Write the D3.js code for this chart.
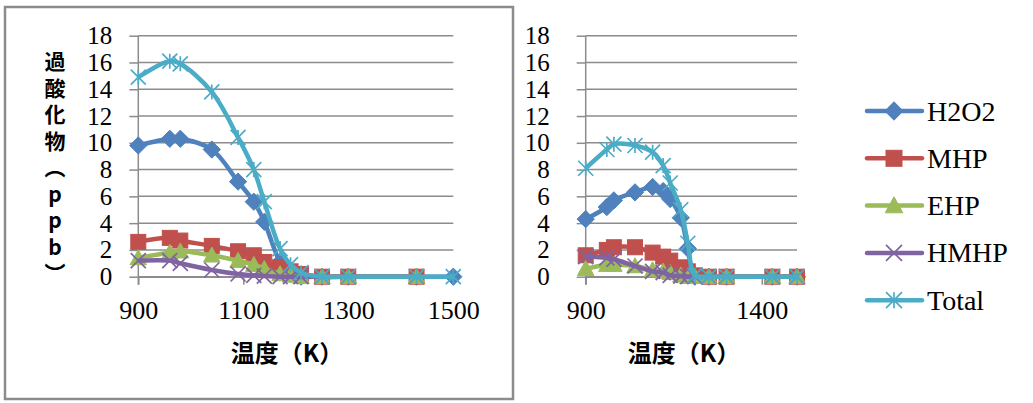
<!DOCTYPE html>
<html><head><meta charset="utf-8">
<script src="https://cdn.jsdelivr.net/npm/d3@7"></script>
<style>
body{margin:0;background:#fff}
svg{display:block}
</style>
</head><body>
<script>
// Peroxide concentrations (ppb) versus temperature (K), two runs
const temps = [900,960,980,1040,1090,1120,1140,1170,1190,1210,1250,1300,1430,1500];

const leftH2O2  = [9.8,10.3,10.3,9.5,7.1,5.6,4.1,1.1,0.2,0,0,0,0,0];
const leftMHP   = [2.6,2.9,2.7,2.3,1.9,1.6,1.1,0.7,0.4,0.2,0,0,0,null];
const leftEHP   = [1.4,1.8,1.9,1.6,1.2,0.9,0.6,0.2,0.1,0,0,0,0,null];
const leftHMHP  = [1.2,1.2,1.0,0.5,0.2,0.1,0.05,0,0,0,0,0,0,null];
const leftTotal = [14.9,16.1,15.9,13.8,10.4,8.0,5.6,2.1,0.9,0.3,0,0,0,0];

const rightH2O2  = [4.3,5.2,5.7,6.3,6.7,6.4,5.8,4.4,2.1,0,0,0,0,0];
const rightMHP   = [1.6,2.0,2.2,2.2,1.8,1.5,1.2,0.7,0.4,0.1,0,0,0,0];
const rightEHP   = [0.6,0.9,0.9,0.8,0.5,0.4,0.3,0.1,0,0,0,0,0,0];
const rightHMHP  = [1.5,1.4,1.3,0.8,0.4,0.3,0.1,0.05,0,0,0,0,0,0];
const rightTotal = [8.1,9.5,9.9,9.8,9.3,8.3,7.0,5.0,2.5,0.1,0,0,0,0];

const seriesNames = ["H2O2","MHP","EHP","HMHP","Total"];
const seriesColors = ["#4f81bd","#c0504d","#9bbb59","#8064a2","#4bacc6"];
const seriesMarkers = ["diamond","square","triangle","x","star"];

const yTicks = [0,2,4,6,8,10,12,14,16,18];
const leftXTicks = [900,1100,1300,1500];
const rightXTicks = [900,1400];

const xTitle = "温度（K）";
const yTitle = "過酸化物（ppb）";

const W = 1033, H = 403;
const svg = d3.select("body").append("svg").attr("width", W).attr("height", H);

const serif = "'Liberation Serif','Times New Roman',serif";
const cjk = "'Noto Sans CJK JP','Noto Sans CJK SC',sans-serif";
const gridColor = "#8c8c8c";

// frame around the left chart
svg.append("rect").attr("x",5).attr("y",7).attr("width",508).attr("height",392)
  .attr("fill","none").attr("stroke","#8c8c8c").attr("stroke-width",2.5);

function drawMarker(g, type, color, size){
  const s = size/2;
  if(type==="diamond"){
    g.append("path").attr("d",`M0,${-s*1.15}L${s*1.15},0L0,${s*1.15}L${-s*1.15},0Z`).attr("fill",color).attr("stroke",color).attr("stroke-width",1);
  } else if(type==="square"){
    g.append("rect").attr("x",-s).attr("y",-s).attr("width",size).attr("height",size).attr("fill",color).attr("stroke",color).attr("stroke-width",1);
  } else if(type==="triangle"){
    g.append("path").attr("d",`M0,${-s*1.1}L${s*1.1},${s*0.9}L${-s*1.1},${s*0.9}Z`).attr("fill",color).attr("stroke",color).attr("stroke-width",1);
  } else if(type==="x"){
    g.append("path").attr("d",`M${-s},${-s}L${s},${s}M${-s},${s}L${s},${-s}`).attr("stroke",color).attr("stroke-width",1.7).attr("fill","none");
  } else if(type==="star"){
    g.append("path").attr("d",`M${-s},${-s}L${s},${s}M${-s},${s}L${s},${-s}M0,${-s}L0,${s}`).attr("stroke",color).attr("stroke-width",1.7).attr("fill","none");
  }
}

function drawChart(cfg){
  const x = d3.scaleLinear().domain([900,1500]).range([cfg.x0, cfg.x1]);
  const y = d3.scaleLinear().domain([0,18]).range([276.7, 35.7]);
  const g = svg.append("g");

  // horizontal gridlines
  g.append("g").selectAll("line").data(yTicks).join("line")
    .attr("x1", cfg.x0).attr("x2", cfg.x1)
    .attr("y1", d=>y(d)).attr("y2", d=>y(d))
    .attr("stroke", gridColor).attr("stroke-width", 1.5);

  // y axis with outward ticks
  const yAxis = g.append("g").attr("transform",`translate(${cfg.x0},0)`)
    .call(d3.axisLeft(y).tickValues(yTicks).tickSize(9).tickSizeOuter(0).tickFormat(d3.format("d")).tickPadding(cfg.yPad));
  yAxis.select(".domain").attr("stroke", gridColor).attr("stroke-width",1.5)
    .attr("d", `M0,${y(0)+8}V${y(18)}`);
  yAxis.selectAll(".tick line").attr("stroke", gridColor).attr("stroke-width",1.5);
  yAxis.selectAll(".tick text").attr("font-family", serif).attr("font-size", 25).attr("fill","#000");

  // x axis
  const xAxis = g.append("g").attr("transform",`translate(0,${y(0)})`)
    .call(d3.axisBottom(x).tickValues(cfg.xTicks).tickSize(8).tickSizeOuter(0).tickFormat(d3.format("d")).tickPadding(16));
  xAxis.select(".domain").attr("stroke", gridColor).attr("stroke-width",1.5);
  xAxis.selectAll(".tick line").attr("stroke", gridColor).attr("stroke-width",1.5);
  xAxis.selectAll(".tick text").attr("font-family", serif).attr("font-size", 26).attr("fill","#000");

  // series
  const line = d3.line().defined(d=>d.v!==null).x(d=>x(d.t)).y(d=>y(d.v)).curve(d3.curveCatmullRom.alpha(0.5));
  cfg.series.forEach((vals,i)=>{
    const pts = temps.map((t,k)=>({t, v: vals[k]})).filter(d=>d.v!==null);
    g.append("path").datum(pts).attr("d", line).attr("fill","none")
      .attr("stroke", seriesColors[i]).attr("stroke-width",4.5).attr("stroke-linejoin","round");
    const mg = g.append("g");
    pts.forEach(d=>{
      const m = mg.append("g").attr("transform",`translate(${x(d.t)},${y(d.v)})`);
      drawMarker(m, seriesMarkers[i], seriesColors[i], 15);
    });
  });

  // x axis title
  g.append("text").attr("x", cfg.titleX).attr("y", 362).attr("text-anchor","middle")
    .attr("font-family", cjk).attr("font-weight", 700).attr("font-size", 24).attr("fill","#000")
    .text(xTitle);
}

drawChart({x0:138.3, x1:453.3, xTicks:leftXTicks, yPad:17, titleX:287,
  series:[leftH2O2,leftMHP,leftEHP,leftHMHP,leftTotal]});
drawChart({x0:585.7, x1:797, xTicks:rightXTicks, yPad:27, titleX:684,
  series:[rightH2O2,rightMHP,rightEHP,rightHMHP,rightTotal]});

// vertical y axis title for the left chart (upright vertical writing)
svg.append("text")
  .attr("x", 55).attr("y", 51)
  .style("writing-mode", "vertical-rl")
  .style("text-orientation", "upright")
  .attr("font-family", cjk).attr("font-weight", 700).attr("font-size", 21)
  .attr("letter-spacing", 5.5).attr("fill","#000")
  .text(yTitle);

// legend
const legend = svg.append("g");
seriesNames.forEach((name,i)=>{
  const ly = 111 + i*47.3;
  const lg = legend.append("g").attr("transform",`translate(0,${ly})`);
  lg.append("line").attr("x1",867).attr("x2",922).attr("y1",0).attr("y2",0)
    .attr("stroke",seriesColors[i]).attr("stroke-width",4.5).attr("stroke-linecap","round");
  const m = lg.append("g").attr("transform","translate(894,0)");
  drawMarker(m, seriesMarkers[i], seriesColors[i], 16);
  lg.append("text").attr("x",927).attr("y",0).attr("dominant-baseline","central")
    .attr("font-family", serif).attr("font-size", 28).attr("fill","#000").text(name);
});
</script>
</body></html>
